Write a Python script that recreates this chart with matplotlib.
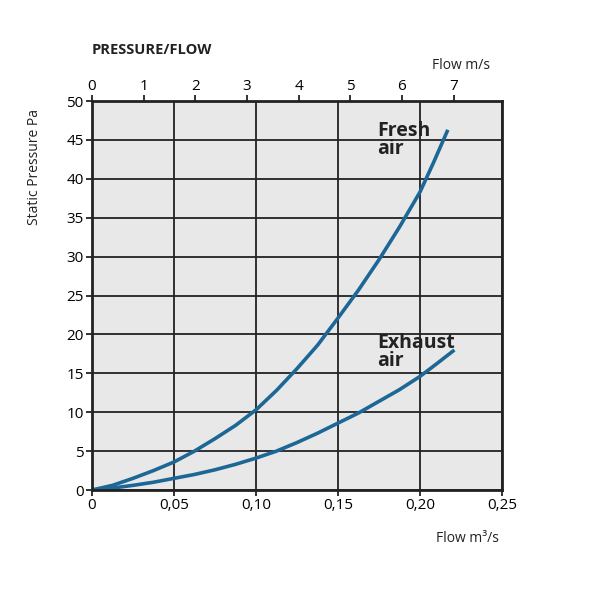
import matplotlib.pyplot as plt
import numpy as np

# values
flow = [0.0, 0.0125, 0.025, 0.0375, 0.05, 0.0625, 0.075, 0.0875, 0.10, 0.1125, 0.125,
        0.1375, 0.15, 0.1625, 0.175, 0.1875, 0.20, 0.2085, 0.217]
fresh = [0.0, 0.6, 1.5, 2.5, 3.6, 5.0, 6.6, 8.3, 10.3, 12.8, 15.6,
         18.6, 22.1, 25.7, 29.6, 33.8, 38.3, 42.2, 46.3]
flow_exh = [0.0, 0.0125, 0.025, 0.0375, 0.05, 0.0625, 0.075, 0.0875, 0.10, 0.1125, 0.125,
            0.1375, 0.15, 0.1625, 0.175, 0.1875, 0.20, 0.21, 0.221]
exhaust = [0.0, 0.25, 0.6, 1.0, 1.5, 2.0, 2.6, 3.3, 4.1, 5.0, 6.1,
           7.3, 8.6, 9.9, 11.4, 12.9, 14.6, 16.2, 18.0]

x_ticks = [0, 0.05, 0.10, 0.15, 0.20, 0.25]
x_labels = ["0", "0,05", "0,10", "0,15", "0,20", "0,25"]
y_ticks = list(range(0, 51, 5))
speed_ticks = [0, 1, 2, 3, 4, 5, 6, 7]
m3s_per_ms = 0.0315  # 7 m/s sits at about 0.2205 m3/s

plt.rcParams['font.family'] = ['Open Sans', 'DejaVu Sans']
blue = '#1d6797'
ink = '#222222'

fig = plt.figure(figsize=(6, 6), dpi=100)
ax = fig.add_axes([0.1533, 0.1833, 0.6833, 0.6483])
ax.set_facecolor('#e8e8e8')

ax.plot(flow, fresh, color=blue, lw=2.6, solid_capstyle='butt', solid_joinstyle='round')
ax.plot(flow_exh, exhaust, color=blue, lw=2.6, solid_capstyle='butt', solid_joinstyle='round')

ax.set_xlim(0, 0.25)
ax.set_ylim(0, 50)
ax.set_xticks(x_ticks)
ax.set_xticklabels(x_labels)
ax.set_yticks(y_ticks)
ax.grid(True, color=ink, lw=1.3)
ax.set_axisbelow(True)
for s in ax.spines.values():
    s.set_linewidth(2)
    s.set_color(ink)
ax.tick_params(labelsize=11, length=4, width=1.3, color=ink, pad=2)

# top axis: flow speed
top = ax.twiny()
top.set_xlim(0, 0.25 / m3s_per_ms)
top.set_xticks(speed_ticks)
top.tick_params(labelsize=11, length=4, width=1.3, color=ink, pad=1)
for s in top.spines.values():
    s.set_visible(False)

ax.text(0.0, 56.5, "PRESSURE/FLOW", fontsize=10.5, fontweight='bold', ha='left', va='center',
        color=ink)
ax.text(0.225, 53.6, "Flow m/s", fontsize=10, ha='center', va='bottom', color=ink)
ax.text(0.229, -5.3, "Flow m³/s", fontsize=10, ha='center', va='top', color=ink)
fig.text(0.058, 0.722, "Static Pressure Pa", fontsize=10, rotation=90, ha='center', va='center',
         color=ink)

ax.text(0.174, 45.0, "Fresh\nair", fontsize=14, fontweight='bold', ha='left', va='center',
        linespacing=0.85, color=ink)
ax.text(0.174, 17.7, "Exhaust\nair", fontsize=14, fontweight='bold', ha='left', va='center',
        linespacing=0.85, color=ink)

fig.savefig('out.png', dpi=100)
